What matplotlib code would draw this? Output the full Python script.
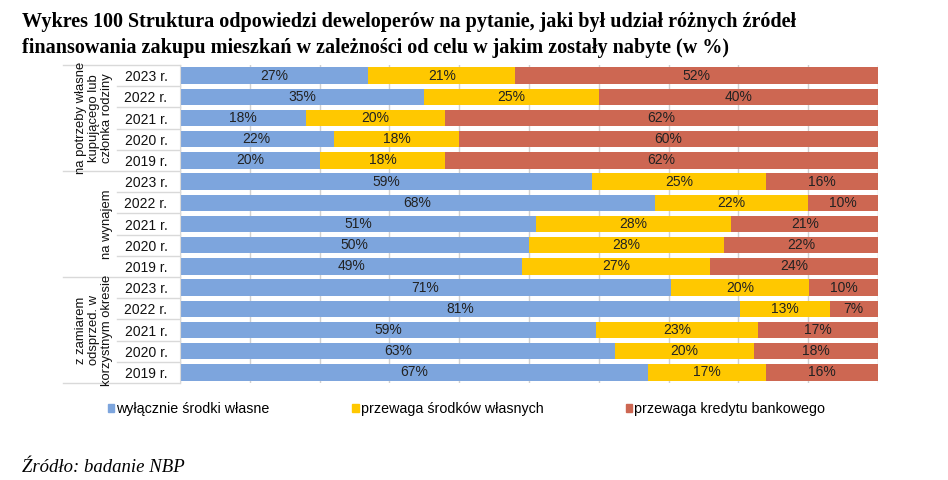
import matplotlib
matplotlib.use('Agg')
import matplotlib.pyplot as plt
import matplotlib.transforms as mtransforms
from matplotlib.patches import Patch
import numpy as np

# -----------------------------
# data
# -----------------------------
groups = ['na potrzeby własne\nkupującego lub\nczłonka rodziny',
          'na wynajem',
          'z zamiarem\nodsprzed. w\nkorzystnym okresie']
years = ['2023 r.', '2022 r.', '2021 r.', '2020 r.', '2019 r.']
series_names = ['wyłącznie środki własne',
                'przewaga środków własnych',
                'przewaga kredytu bankowego']

own_only = [27, 35, 18, 22, 20,
            59, 68, 51, 50, 49,
            71, 81, 59, 63, 67]
own_major = [21, 25, 20, 18, 18,
             25, 22, 28, 28, 27,
             20, 13, 23, 20, 17]
bank_major = [52, 40, 62, 60, 62,
              16, 10, 21, 22, 24,
              10, 7, 17, 18, 16]

colors = ['#7DA5DD', '#FFC800', '#CD6752']

# -----------------------------
# figure
# -----------------------------
W, H = 948, 480
fig = plt.figure(figsize=(W / 100, H / 100), dpi=100)
plt.rcParams['font.family'] = ['Liberation Sans', 'DejaVu Sans']

ax = fig.add_axes([180 / W, 1 - 383 / H, 698 / W, 318 / H])

vals = np.array([own_only, own_major, bank_major], dtype=float)
shares = vals / vals.sum(axis=0) * 100
n = vals.shape[1]
ypos = np.arange(n)

left = np.zeros(n)
for i in range(3):
    ax.barh(ypos, shares[i], left=left, height=0.78, color=colors[i],
            label=series_names[i], zorder=2)
    for y, l, w, v in zip(ypos, left, shares[i], vals[i]):
        ax.text(l + w / 2, y, f'{int(v)}%', ha='center', va='center',
                fontsize=10, color='#222222', zorder=3)
    left += shares[i]

ax.set_xlim(0, 100)
ax.set_ylim(n - 0.5, -0.5)
ax.set_xticks(np.arange(0, 101, 10))
ax.xaxis.grid(True, color='#d0d0d0', linewidth=1.0, zorder=0)
ax.tick_params(axis='x', length=0, labelbottom=False)
ax.set_yticks(ypos)
ax.set_yticklabels(years * 3, fontsize=10, color='#111111')
ax.tick_params(axis='y', length=0, pad=9)
for s in ['top', 'right', 'bottom']:
    ax.spines[s].set_visible(False)
ax.spines['left'].set_color('#d9d9d9')

# category table lines on the left
tr = mtransforms.blended_transform_factory(ax.transAxes, ax.transData)
x_outer = (63 - 180) / 698
x_inner = (117 - 180) / 698
for k in range(n + 1):
    xs = x_outer if k % 5 == 0 else x_inner
    ax.plot([xs, 0], [k - 0.5, k - 0.5], transform=tr, color='#d9d9d9',
            linewidth=1.0, clip_on=False)

for g, name in enumerate(groups):
    ax.text((113 - 180) / 698, g * 5 + 2, name, transform=tr, rotation=90,
            ha='right', va='center', multialignment='center', fontsize=9.4,
            linespacing=1.1, color='#111111')

# legend
handles = [Patch(color=c) for c in colors]
fig.legend(handles, series_names, loc='center left',
           bbox_to_anchor=(95 / W, 1 - 409 / H), ncol=3, frameon=False,
           fontsize=10.3, handlelength=0.45, handleheight=0.5,
           handletextpad=0.15, columnspacing=5.75)

# title and source
fig.text(22 / W, 1 - 12 / H,
         'Wykres 100 Struktura odpowiedzi deweloperów na pytanie, jaki był udział różnych źródeł\n'
         'finansowania zakupu mieszkań w zależności od celu w jakim zostały nabyte (w %)',
         ha='left', va='top', fontsize=14.5, fontweight='bold',
         family=['Liberation Serif', 'DejaVu Serif'], linespacing=1.38)
fig.text(22 / W, 1 - 467 / H, 'Źródło: badanie NBP', ha='left', va='center',
         fontsize=13.5, style='italic', family=['Liberation Serif', 'DejaVu Serif'])

fig.savefig('out.png', dpi=100)
